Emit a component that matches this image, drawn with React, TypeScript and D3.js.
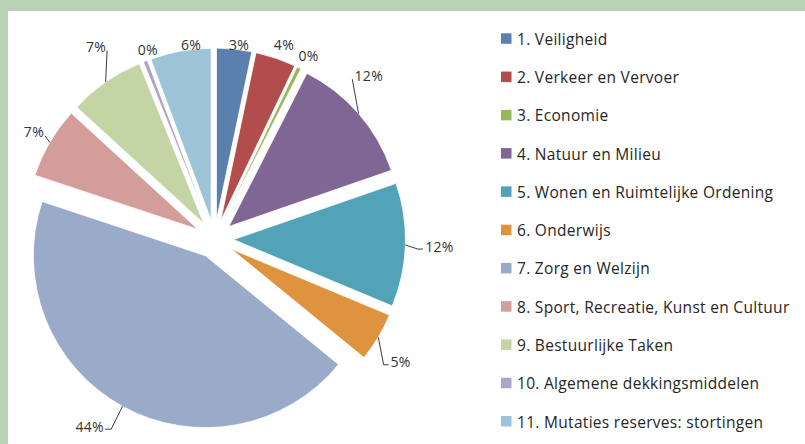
import React from "react";
import * as d3 from "d3";

const categories = [
  "1. Veiligheid",
  "2. Verkeer en Vervoer",
  "3. Economie",
  "4. Natuur en Milieu",
  "5. Wonen en Ruimtelijke Ordening",
  "6. Onderwijs",
  "7. Zorg en Welzijn",
  "8. Sport, Recreatie, Kunst en Cultuur",
  "9. Bestuurlijke Taken",
  "10. Algemene dekkingsmiddelen",
  "11. Mutaties reserves: stortingen",
];
const values = [3.3, 3.8, 0.4, 12.2, 11.6, 4.6, 44.2, 6.7, 7.1, 0.4, 5.7];
const colors = [
  "#5b80ae", "#b14d4b", "#97b85a", "#7f6695", "#52a3b8", "#e0933f",
  "#9aabc9", "#d39d9a", "#c3d4a5", "#b0a4c6", "#9dc4d6",
];
// label placement (polar, from pie centre): angle in degrees, radius in px, leader kind
const labelAngles = [7.2, 19.6, 27.2, 43.3, 91.8, 123.4, 213.7, 300.7, 328.4, 340.6, 353.1];
const labelRadii = [196, 207, 206, 225, 225, 223, 225, 210, 226, 201, 196];
const leaderKinds = ["none", "none", "none", "direct", "side", "side", "side", "direct", "direct", "none", "none"];

const W = 805;
const H = 444;
const cx = 214.5;
const cy = 239;
const R = 172;
const explode = 19;

export default function App() {
  const total = d3.sum(values);
  const pie = d3.pie<number>().sort(null).value((v) => v);
  const arcs = pie(values);
  const arcGen = d3.arc<d3.PieArcDatum<number>>().innerRadius(0).outerRadius(R);
  const legendY = d3.scaleLinear().domain([0, 10]).range([38.8, 421.5]);
  const labelFont = "'Open Sans', 'Noto Sans', sans-serif";

  return (
    <svg width={W} height={H} style={{ position: "absolute", left: 0, top: 0 }}>
      <rect x={0} y={0} width={W} height={H} fill="#b9d1b5" />
      <rect x={8} y={11} width={W - 8} height={H - 11} fill="#ffffff" />
      <g transform={`translate(${cx},${cy})`}>
        {arcs.map((a, i) => {
          const mid = (a.startAngle + a.endAngle) / 2;
          const [ox, oy] = d3.pointRadial(mid, explode);
          return (
            <path
              key={i}
              d={arcGen(a) || ""}
              transform={`translate(${ox},${oy})`}
              fill={colors[i]}
              stroke="#ffffff"
              strokeWidth={0.8}
            />
          );
        })}
        {arcs.map((a, i) => {
          const mid = (a.startAngle + a.endAngle) / 2;
          const [ox, oy] = d3.pointRadial(mid, explode);
          const [ax, ay] = d3.pointRadial(mid, R);
          const sx = ox + ax;
          const sy = oy + ay;
          const [lx, ly] = d3.pointRadial((labelAngles[i] * Math.PI) / 180, labelRadii[i]);
          const txt = `${Math.round((values[i] / total) * 100)}%`;
          const w = txt.length * 9;
          const kind = leaderKinds[i];
          let path = "";
          if (kind !== "none") {
            const right = sx > lx;
            const ex = right ? lx + w / 2 + 2 : lx - w / 2 - 3;
            const ey = ly + (kind === "side" ? 3 : 4);
            if (kind === "side") {
              const bx = right ? ex + 6 : ex - 5;
              path = `M${sx},${sy}L${bx},${ey}L${ex},${ey}`;
            } else {
              path = `M${sx},${sy}L${ex},${ey}`;
            }
          }
          return (
            <g key={"l" + i}>
              {path && <path d={path} fill="none" stroke="#262626" strokeWidth={0.9} />}
              <text
                x={lx}
                y={ly}
                textAnchor="middle"
                dominantBaseline="central"
                fontFamily={labelFont}
                fontSize={14}
                letterSpacing={0.3}
                fill="#333333"
              >
                {txt}
              </text>
            </g>
          );
        })}
      </g>
      <g>
        {categories.map((c, i) => (
          <g key={c} transform={`translate(501,${legendY(i)})`}>
            <rect x={0} y={-5.5} width={10.5} height={10.5} fill={colors[i]} />
            <text
              x={16}
              y={0}
              dominantBaseline="central"
              fontFamily={labelFont}
              fontSize={15.5}
              letterSpacing={0.3}
              fill="#262626"
            >
              {c}
            </text>
          </g>
        ))}
      </g>
    </svg>
  );
}
